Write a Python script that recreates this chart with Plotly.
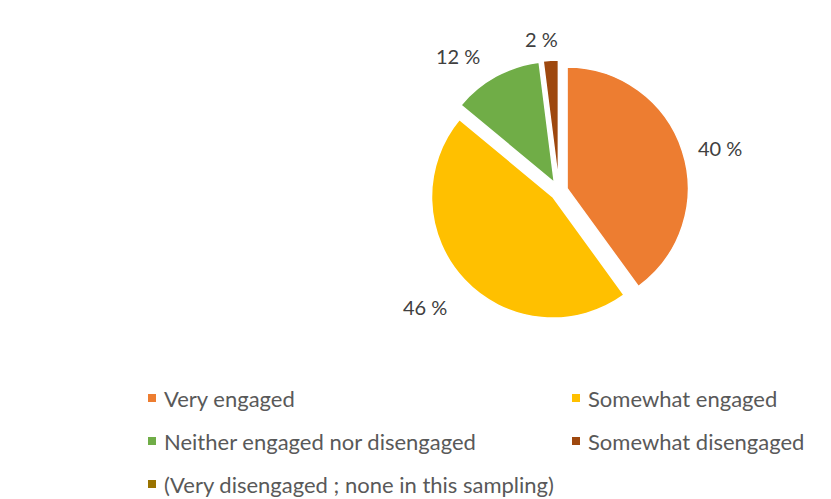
import math
import plotly.graph_objects as go

# Survey responses: engagement level share (%)
labels = [
    "Very engaged",
    "Somewhat engaged",
    "Neither engaged nor disengaged",
    "Somewhat disengaged",
    "(Very disengaged ; none in this sampling)",
]
values = [40, 46, 12, 2, 0]
colors = ["#ED7D31", "#FFC000", "#70AD47", "#9E480E", "#997300"]
pulls = [0.07, 0.07, 0.08, 0.08, 0.0]

W, H = 831, 499
FONT = "Lato"

# pie placement (pixels)
CX, CY, HALF = 559, 191, 131
R = HALF / (1 + max(pulls))  # radius plotly uses once the pull is reserved

# extra nudge of each value label beyond the slice's outer mid-arc point (px)
label_nudge = [(38, -3), (-39, 27), (-38, -20), (-9, -21), (0, 0)]

fig = go.Figure()
fig.add_trace(go.Pie(
    labels=labels,
    values=values,
    textinfo="none",
    marker=dict(colors=colors, line=dict(color="white", width=1.5)),
    pull=pulls,
    sort=False,
    direction="clockwise",
    rotation=0,
    hoverinfo="label+percent",
    showlegend=False,
    domain=dict(x=[(CX - HALF) / W, (CX + HALF) / W],
                y=[1 - (CY + HALF) / H, 1 - (CY - HALF) / H]),
))

annots = []

# value labels: "<value> %", placed outside each non-empty slice
total = sum(values)
start = 0.0
for v, p, (nx, ny) in zip(values, pulls, label_nudge):
    frac = v / total
    mid = (start + frac / 2) * 2 * math.pi
    start += frac
    if v <= 0:
        continue
    dist = R * (1 + p)
    px = CX + dist * math.sin(mid)
    py = CY - dist * math.cos(mid)
    annots.append(dict(
        xref="paper", yref="paper",
        x=px / W, y=1 - py / H,
        xshift=nx, yshift=-ny,
        xanchor="center", yanchor="middle",
        text=f"{v} %", showarrow=False,
        font=dict(family=FONT, size=20, color="#404040"),
    ))

# two-column legend below the pie
col_x = [148, 572]
row_y = [398, 441, 484]
shapes = []
for i, (lab, col) in enumerate(zip(labels, colors)):
    cx = col_x[i % 2]
    cy = row_y[i // 2]
    shapes.append(dict(
        type="rect", xref="paper", yref="paper",
        x0=cx / W, x1=(cx + 8) / W,
        y0=1 - (cy + 4) / H, y1=1 - (cy - 4) / H,
        fillcolor=col, line=dict(width=0),
    ))
    annots.append(dict(
        xref="paper", yref="paper",
        x=(cx + 14) / W, y=1 - cy / H,
        xanchor="left", yanchor="middle",
        text=lab, showarrow=False,
        font=dict(family=FONT, size=22, color="#595959"),
    ))

fig.update_layout(
    width=W, height=H,
    margin=dict(l=0, r=0, t=0, b=0),
    paper_bgcolor="white",
    plot_bgcolor="white",
    shapes=shapes,
    annotations=annots,
)

fig.write_html("out.html")
